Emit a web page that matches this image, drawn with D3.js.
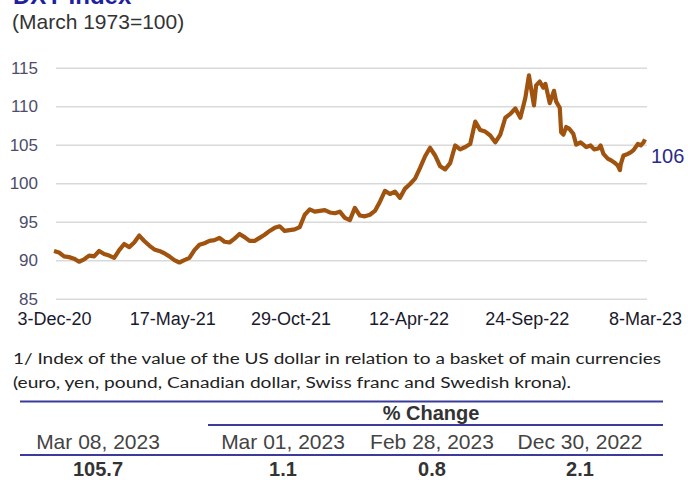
<!DOCTYPE html>
<html>
<head>
<meta charset="utf-8">
<script src="https://cdn.jsdelivr.net/npm/d3@7"></script>
<style>
    body { margin: 0; background: #fff; }
    svg { display: block; }
</style>
</head>
<body>
<div id="chart"></div>
<script>

// DXY index
const dates = [
    "2020-12-03","2020-12-10","2020-12-17","2020-12-24","2020-12-31",
    "2021-01-07","2021-01-14","2021-01-21","2021-01-28","2021-02-04","2021-02-11","2021-02-18","2021-02-25",
    "2021-03-04","2021-03-11","2021-03-18","2021-03-25","2021-04-01","2021-04-08","2021-04-15","2021-04-22","2021-04-29",
    "2021-05-06","2021-05-13","2021-05-20","2021-05-27","2021-06-03","2021-06-10","2021-06-17","2021-06-24",
    "2021-07-01","2021-07-08","2021-07-15","2021-07-22","2021-07-29","2021-08-05","2021-08-12","2021-08-19","2021-08-26",
    "2021-09-02","2021-09-09","2021-09-16","2021-09-23","2021-09-30","2021-10-07","2021-10-14","2021-10-21","2021-10-28",
    "2021-11-04","2021-11-11","2021-11-18","2021-11-25","2021-12-02","2021-12-09","2021-12-16","2021-12-23","2021-12-30",
    "2022-01-06","2022-01-13","2022-01-20","2022-01-27","2022-02-03","2022-02-10","2022-02-17","2022-02-24",
    "2022-03-03","2022-03-10","2022-03-17","2022-03-24","2022-03-31","2022-04-07","2022-04-14","2022-04-21","2022-04-28",
    "2022-05-05","2022-05-12","2022-05-19","2022-05-26","2022-06-02","2022-06-09","2022-06-16","2022-06-23","2022-06-30",
    "2022-07-07","2022-07-14","2022-07-21","2022-07-28","2022-08-04","2022-08-11","2022-08-18","2022-08-25",
    "2022-09-01","2022-09-08","2022-09-15","2022-09-22","2022-09-27","2022-09-30","2022-10-04","2022-10-07",
    "2022-10-12","2022-10-17","2022-10-20","2022-10-26","2022-11-01","2022-11-04","2022-11-09","2022-11-11",
    "2022-11-14","2022-11-18","2022-11-22","2022-11-28","2022-12-02","2022-12-08","2022-12-12","2022-12-16",
    "2022-12-22","2022-12-27","2023-01-02","2023-01-05","2023-01-09","2023-01-15","2023-01-19","2023-01-24",
    "2023-01-29","2023-02-01","2023-02-02","2023-02-06","2023-02-12","2023-02-16","2023-02-20","2023-02-26",
    "2023-03-02","2023-03-06","2023-03-08"
];

const dxyValues = [
    91.2, 91.0, 90.5, 90.4, 90.2,
    89.8, 90.1, 90.6, 90.5, 91.2, 90.8, 90.6, 90.3,
    91.3, 92.1, 91.7, 92.3, 93.2, 92.5, 91.9, 91.4, 91.2,
    90.9, 90.5, 90.0, 89.7, 90.0, 90.3, 91.3, 92.0,
    92.2, 92.5, 92.6, 92.9, 92.4, 92.3, 92.8, 93.4, 93.0,
    92.5, 92.5, 92.9, 93.3, 93.8, 94.2, 94.4, 93.8, 93.9,
    94.0, 94.3, 95.9, 96.6, 96.3, 96.4, 96.5, 96.2, 96.1,
    96.3, 95.5, 95.2, 96.8, 95.8, 95.7, 95.9, 96.4,
    97.6, 99.0, 98.6, 98.9, 98.1, 99.3, 99.9, 100.6, 102.0,
    103.5, 104.6, 103.6, 102.2, 101.8, 102.6, 104.9, 104.4, 104.7,
    105.1, 108.0, 106.9, 106.7, 106.2, 105.3, 106.3, 108.5,
    109.0, 109.7, 108.5, 111.1, 114.0, 112.3, 110.1, 112.7,
    113.2, 112.4, 112.9, 110.4, 112.0, 110.6, 109.8, 106.6,
    106.3, 107.3, 107.1, 106.4, 105.0, 105.3, 105.0, 104.7,
    104.9, 104.4, 104.5, 104.9, 103.8, 103.2, 103.0, 102.7,
    102.3, 101.7, 102.4, 103.6, 103.8, 104.0, 104.3, 105.1,
    104.9, 105.3, 105.7
];

const yTicks = [85, 90, 95, 100, 105, 110, 115];
const xTickDates = ["2020-12-03", "2021-05-17", "2021-10-29", "2022-04-12", "2022-09-24", "2023-03-08"];
const lastLabel = "106";

const footnote = [
    "1/ Index of the value of the US dollar in relation to a basket of main currencies",
    "(euro, yen, pound, Canadian dollar, Swiss franc and Swedish krona)."
];
const tableHeaders = ["Mar 08, 2023", "Mar 01, 2023", "Feb 28, 2023", "Dec 30, 2022"];
const tableValues = ["105.7", "1.1", "0.8", "2.1"];


class DxyChart {

    constructor(parentElement) {
        this.parentElement = parentElement;
        let parse = d3.timeParse("%Y-%m-%d");
        this.data = dates.map((d, i) => ({date: parse(d), value: dxyValues[i]}));
        this.tickDates = xTickDates.map(parse);

        this.lineColor = "#a0530f";
        this.blue = "#3b3b9c";

        this.initVis();
    }

    initVis() {
        let vis = this;

        vis.width = 688;
        vis.height = 480;

        vis.svg = d3.select("#" + vis.parentElement).append("svg")
            .attr("width", vis.width)
            .attr("height", vis.height)
            .style("font-family", "Arial, 'Liberation Sans', sans-serif");

        // title (cut off at top in the original) + subtitle
        vis.svg.append("text")
            .attr("x", 13).attr("y", 4)
            .attr("font-size", 24).attr("font-weight", "bold")
            .attr("fill", "#1f1fa0")
            .text("DXY Index");

        vis.svg.append("text")
            .attr("x", 12).attr("y", 29)
            .attr("font-size", 21)
            .attr("fill", "#333")
            .text("(March 1973=100)");

        vis.x = d3.scaleTime()
            .domain(d3.extent(vis.data, d => d.date))
            .range([54, 645]);

        vis.y = d3.scaleLinear()
            .domain([85, 115])
            .range([298.7, 67.7]);

        // gridlines
        vis.svg.append("g")
            .attr("class", "grid")
            .attr("transform", "translate(647,0)")
            .call(d3.axisLeft(vis.y).tickValues(yTicks).tickSize(591).tickFormat(""))
            .call(g => g.select(".domain").remove())
            .call(g => g.selectAll("line").attr("stroke", "#d9d9d9").attr("stroke-width", 1.6));

        // y labels
        vis.svg.append("g")
            .attr("transform", "translate(38,0)")
            .call(d3.axisLeft(vis.y).tickValues(yTicks).tickSize(0).tickPadding(0))
            .call(g => g.select(".domain").remove())
            .call(g => g.selectAll("text")
                .attr("font-size", 17)
                .attr("font-family", "Arial, 'Liberation Sans', sans-serif")
                .attr("fill", "#4d4d6b"));

        // x labels
        vis.svg.append("g")
            .attr("transform", "translate(0,312)")
            .call(d3.axisBottom(vis.x).tickValues(vis.tickDates).tickSize(0).tickPadding(0)
                .tickFormat(d3.timeFormat("%-d-%b-%y")))
            .call(g => g.select(".domain").remove())
            .call(g => g.selectAll("text")
                .attr("font-size", 18)
                .attr("font-family", "Arial, 'Liberation Sans', sans-serif")
                .attr("fill", "#1a1a2e"));

        // line
        vis.line = d3.line()
            .x(d => vis.x(d.date))
            .y(d => vis.y(d.value));

        vis.svg.append("path")
            .datum(vis.data)
            .attr("fill", "none")
            .attr("stroke", vis.lineColor)
            .attr("stroke-width", 4.2)
            .attr("stroke-linejoin", "round")
            .attr("d", vis.line);

        let last = vis.data[vis.data.length - 1];
        vis.svg.append("text")
            .attr("x", vis.x(last.date) + 6)
            .attr("y", vis.y(last.value) + 24)
            .attr("font-size", 20)
            .attr("fill", "#2a2a8c")
            .text(lastLabel);

        vis.drawNotes();
    }

    drawNotes() {
        let vis = this;

        vis.svg.selectAll(".footnote").data(footnote)
            .enter().append("text")
            .attr("class", "footnote")
            .attr("x", 13)
            .attr("y", (d, i) => 364 + i * 24)
            .attr("font-family", "Lato, 'Open Sans', sans-serif")
            .attr("font-size", 15.5)
            .attr("fill", "#222")
            .attr("textLength", (d, i) => i === 0 ? 648 : 558)
            .attr("lengthAdjust", "spacingAndGlyphs")
            .text(d => d);

        // table
        let cols = [98, 283, 432, 580];
        let rules = [
            {x1: 20, x2: 663, y: 401.5, w: 2},
            {x1: 208, x2: 663, y: 425, w: 2},
            {x1: 20, x2: 663, y: 455, w: 2}
        ];
        vis.svg.selectAll(".rule").data(rules)
            .enter().append("line")
            .attr("class", "rule")
            .attr("x1", d => d.x1).attr("x2", d => d.x2)
            .attr("y1", d => d.y).attr("y2", d => d.y)
            .attr("stroke", vis.blue)
            .attr("stroke-width", d => d.w);

        let tfont = "'Liberation Sans Narrow', 'Arial Narrow', Arial, sans-serif";

        vis.svg.append("text")
            .attr("x", 431).attr("y", 420)
            .attr("text-anchor", "middle")
            .attr("font-family", tfont)
            .attr("font-size", 20).attr("font-weight", "bold")
            .attr("fill", "#333")
            .text("% Change");

        vis.svg.selectAll(".thead").data(tableHeaders)
            .enter().append("text")
            .attr("class", "thead")
            .attr("x", (d, i) => cols[i]).attr("y", 449)
            .attr("text-anchor", "middle")
            .attr("font-family", tfont)
            .attr("font-size", 21)
            .attr("fill", "#444")
            .text(d => d);

        vis.svg.selectAll(".tval").data(tableValues)
            .enter().append("text")
            .attr("class", "tval")
            .attr("x", (d, i) => cols[i]).attr("y", 476)
            .attr("text-anchor", "middle")
            .attr("font-family", tfont)
            .attr("font-size", 20).attr("font-weight", "bold")
            .attr("fill", "#333")
            .text(d => d);
    }
}

new DxyChart("chart");

</script>
</body>
</html>
